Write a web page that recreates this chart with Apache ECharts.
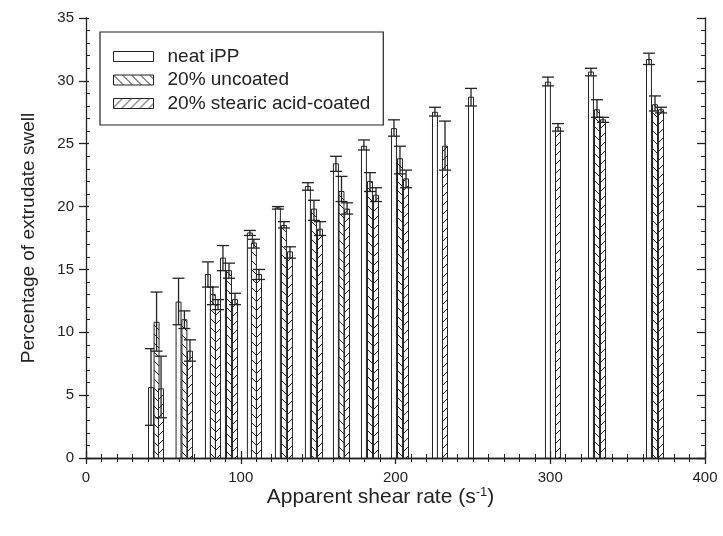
<!DOCTYPE html>
<html>
<head>
<meta charset="utf-8">
<title>Extrudate swell</title>
<script src="https://cdn.jsdelivr.net/npm/echarts@6/dist/echarts.min.js"></script>
<style>
  html, body { margin: 0; padding: 0; background: #fff; }
  #chart { width: 723px; height: 536px; }
</style>
</head>
<body>
<div id="chart"></div>
<script>
    // neat iPP: shear rate, mean, lower cap, upper cap
    var neatX  = [42.0, 59.8, 78.8, 88.5, 105.9, 124.0, 143.4, 161.5, 179.6, 199.0, 225.5, 248.8, 298.5, 326.3, 363.8];
    var neatY  = [5.6, 12.4, 14.6, 15.9, 17.9, 19.9, 21.6, 23.4, 24.8, 26.2, 27.5, 28.7, 29.9, 30.7, 31.7];
    var neatLo = [2.6, 10.6, 13.6, 14.9, 17.7, 19.8, 21.3, 22.8, 24.5, 25.6, 27.2, 28.0, 29.6, 30.4, 31.3];
    var neatHi = [8.7, 14.3, 15.6, 16.9, 18.1, 20.0, 21.9, 24.0, 25.3, 26.9, 27.9, 29.4, 30.3, 31.0, 32.2];

    // 20% uncoated
    var uncX  = [45.6, 63.6, 82.0, 92.4, 108.5, 127.9, 147.3, 165.1, 183.5, 202.9, 330.2, 367.7];
    var uncY  = [10.8, 11.0, 13.0, 14.9, 17.1, 18.5, 19.8, 21.2, 22.0, 23.8, 27.7, 28.1];
    var uncLo = [8.5, 10.3, 12.2, 14.3, 16.7, 18.3, 18.9, 20.4, 21.2, 22.6, 27.1, 27.6];
    var uncHi = [13.2, 11.7, 13.6, 15.5, 17.4, 18.8, 20.5, 22.4, 22.7, 24.8, 28.5, 28.8];

    // 20% stearic acid-coated
    var coatX  = [48.5, 67.2, 85.3, 96.3, 111.8, 131.8, 151.2, 168.7, 187.4, 206.8, 232.0, 305.0, 334.1, 371.6];
    var coatY  = [5.5, 8.5, 12.2, 12.6, 14.6, 16.4, 18.2, 19.8, 20.9, 22.2, 24.8, 26.3, 26.9, 27.7];
    var coatLo = [3.2, 7.7, 11.8, 12.2, 14.2, 15.9, 17.7, 19.4, 20.4, 21.5, 22.9, 26.0, 26.7, 27.45];
    var coatHi = [8.1, 9.4, 12.6, 13.1, 15.0, 16.8, 18.8, 20.3, 21.5, 22.9, 26.8, 26.6, 27.1, 27.9];

    var BAR_W = 3.2; // in shear-rate units

    function rows(xs, ys, lo, hi) {
        return xs.map(function (x, i) { return [x, ys[i], lo[i], hi[i]]; });
    }

    // diagonal hatch as canvas pattern
    function hatch(dir) {
        var s = 9;
        var c = document.createElement('canvas');
        c.width = s; c.height = s;
        var g = c.getContext('2d');
        g.fillStyle = '#fff';
        g.fillRect(0, 0, s, s);
        g.strokeStyle = '#222';
        g.lineWidth = 1;
        g.beginPath();
        if (dir > 0) {
            g.moveTo(-1, s + 1); g.lineTo(s + 1, -1);
            g.moveTo(-2, 2); g.lineTo(2, -2);
            g.moveTo(s - 2, s + 2); g.lineTo(s + 2, s - 2);
        } else {
            g.moveTo(-1, -1); g.lineTo(s + 1, s + 1);
            g.moveTo(-2, s - 2); g.lineTo(2, s + 2);
            g.moveTo(s - 2, -2); g.lineTo(s + 2, 2);
        }
        g.stroke();
        return { image: c, repeat: 'repeat' };
    }

    var fillNeat = '#fff';
    var fillUnc = hatch(-1);
    var fillCoat = hatch(1);

    function makeRender(fill) {
        return function (params, api) {
            var x = api.value(0);
            var base = api.coord([x, 0]);
            var top = api.coord([x, api.value(1)]);
            var pLo = api.coord([x, api.value(2)]);
            var pHi = api.coord([x, api.value(3)]);
            var w = api.size([BAR_W, 0])[0];
            var cap = 6;
            var ink = { stroke: '#222', lineWidth: 1.3 };
            return {
                type: 'group',
                children: [
                    { type: 'rect', shape: { x: base[0] - w / 2, y: top[1], width: w, height: base[1] - top[1] },
                      style: { fill: fill, stroke: '#222', lineWidth: 1 } },
                    { type: 'line', shape: { x1: pHi[0], y1: pHi[1], x2: pLo[0], y2: pLo[1] }, style: ink },
                    { type: 'line', shape: { x1: pHi[0] - cap, y1: pHi[1], x2: pHi[0] + cap, y2: pHi[1] }, style: ink },
                    { type: 'line', shape: { x1: pLo[0] - cap, y1: pLo[1], x2: pLo[0] + cap, y2: pLo[1] }, style: ink }
                ]
            };
        };
    }

    var axisInk = { color: '#222', width: 1.3 };
    var labelStyle = { fontFamily: 'Liberation Sans', fontSize: 15, color: '#222' };

    var chart = echarts.init(document.getElementById('chart'));
    chart.setOption({
        animation: false,
        backgroundColor: '#fff',
        textStyle: { fontFamily: 'Liberation Sans' },
        grid: { left: 86, right: 18, top: 18, bottom: 78 },
        legend: {
            orient: 'vertical',
            left: 100,
            top: 32,
            padding: [15, 13, 12, 13],
            itemGap: 4.5,
            itemWidth: 40,
            itemHeight: 10,
            borderColor: '#222',
            borderWidth: 1.2,
            icon: 'rect',
            itemStyle: { borderColor: '#222', borderWidth: 1 },
            textStyle: { fontFamily: 'Liberation Sans', fontSize: 19, color: '#222', padding: [0, 0, 0, 9] },
            data: ['neat iPP', '20% uncoated', '20% stearic acid-coated']
        },
        xAxis: [{
            type: 'value', min: 0, max: 400, interval: 100, position: 'bottom',
            axisLine: { lineStyle: axisInk },
            axisTick: { inside: true, length: 7, lineStyle: axisInk },
            minorTick: { show: true, splitNumber: 10, length: 4, lineStyle: { color: '#222' } },
            splitLine: { show: false },
            axisLabel: Object.assign({ margin: 12 }, labelStyle),
            name: 'Apparent shear rate (s{sup|-1})',
            nameLocation: 'middle',
            nameMoveOverlap: false,
            nameGap: 28,
            nameTextStyle: {
                fontFamily: 'Liberation Sans', fontSize: 21, color: '#222', padding: [0, 30, 0, 0],
                rich: { sup: { fontFamily: 'Liberation Sans', fontSize: 13, color: '#222', padding: [0, 0, 10, 0] } }
            }
        }, {
            type: 'value', min: 0, max: 400, interval: 100, position: 'top',
            axisLine: { lineStyle: axisInk },
            axisTick: { inside: true, length: 6, lineStyle: axisInk },
            minorTick: { show: true, splitNumber: 10, length: 4, lineStyle: { color: '#222' } },
            splitLine: { show: false },
            axisLabel: { show: false }
        }],
        yAxis: [{
            type: 'value', min: 0, max: 35, interval: 5, position: 'left',
            axisLine: { show: true, lineStyle: axisInk },
            axisTick: { show: true, inside: false, length: 7, lineStyle: axisInk },
            splitLine: { show: false },
            axisLabel: Object.assign({ margin: 12 }, labelStyle),
            name: 'Percentage of extrudate swell',
            nameLocation: 'middle',
            nameMoveOverlap: false,
            nameRotate: 90,
            nameGap: 48,
            nameTextStyle: { fontFamily: 'Liberation Sans', fontSize: 19, color: '#222' }
        }, {
            type: 'value', min: 0, max: 35, interval: 5, position: 'left',
            axisLine: { show: false },
            axisTick: { show: true, inside: true, length: 3, lineStyle: axisInk },
            minorTick: { show: true, splitNumber: 5, length: 4, lineStyle: { color: '#222' } },
            splitLine: { show: false },
            axisLabel: { show: false }
        }, {
            type: 'value', min: 0, max: 35, interval: 5, position: 'right',
            axisLine: { show: true, lineStyle: axisInk },
            axisTick: { show: true, inside: true, length: 8, lineStyle: axisInk },
            minorTick: { show: true, splitNumber: 5, length: 4, lineStyle: { color: '#222' } },
            splitLine: { show: false },
            axisLabel: { show: false }
        }],
        series: [{
            name: 'neat iPP', type: 'custom', xAxisIndex: 0, yAxisIndex: 0,
            itemStyle: { color: fillNeat, borderColor: '#222', borderWidth: 1 },
            renderItem: makeRender(fillNeat),
            encode: { x: 0, y: [1, 2, 3] },
            data: rows(neatX, neatY, neatLo, neatHi)
        }, {
            name: '20% uncoated', type: 'custom', xAxisIndex: 0, yAxisIndex: 0,
            itemStyle: { color: fillUnc, borderColor: '#222', borderWidth: 1 },
            renderItem: makeRender(fillUnc),
            encode: { x: 0, y: [1, 2, 3] },
            data: rows(uncX, uncY, uncLo, uncHi)
        }, {
            name: '20% stearic acid-coated', type: 'custom', xAxisIndex: 0, yAxisIndex: 0,
            itemStyle: { color: fillCoat, borderColor: '#222', borderWidth: 1 },
            renderItem: makeRender(fillCoat),
            encode: { x: 0, y: [1, 2, 3] },
            data: rows(coatX, coatY, coatLo, coatHi)
        }]
    });
</script>
</body>
</html>
